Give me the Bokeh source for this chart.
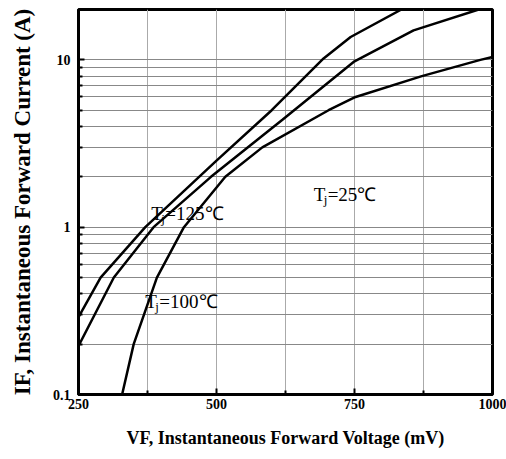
from bokeh.plotting import figure
from bokeh.models import FixedTicker, Label, Range1d
from bokeh.embed import file_html
from bokeh.resources import INLINE

# Forward characteristics (VF in mV, IF in A)
vf_125 = [250, 290, 371, 500, 600, 694, 743, 835]
if_125 = [0.29, 0.5, 1.0, 2.5, 5.0, 10.2, 13.7, 20.0]

vf_100 = [250, 314, 386, 490, 620, 750, 857, 975]
if_100 = [0.195, 0.5, 1.0, 2.0, 4.4, 9.8, 15.0, 20.0]

vf_25 = [329, 350, 392, 441, 516, 583, 703, 752, 872, 978, 1000]
if_25 = [0.1, 0.2, 0.5, 1.0, 2.0, 3.0, 5.0, 6.0, 8.0, 10.0, 10.4]

x_ticks = [250, 500, 750, 1000]
x_minor = [375, 625, 875]
y_ticks = [0.1, 1, 10]
y_minor = [0.2, 0.3, 0.4, 0.5, 0.6, 0.7, 0.8, 0.9, 2, 3, 4, 5, 6, 7, 8, 9, 20]
y_labels = {0.1: "0.1", 1: "1", 10: "10"}

FONT = "Liberation Serif"

p = figure(width=506, height=459, y_axis_type="log",
           x_range=Range1d(250, 1000), y_range=Range1d(0.1, 20),
           output_backend="svg", toolbar_location=None,
           min_border_left=78, min_border_right=14,
           min_border_top=9, min_border_bottom=65)

p.outline_line_color = "black"
p.outline_line_width = 3
p.background_fill_color = "white"

p.xaxis.ticker = FixedTicker(ticks=x_ticks, minor_ticks=x_minor)
p.yaxis.ticker = FixedTicker(ticks=y_ticks, minor_ticks=y_minor)
p.yaxis.major_label_overrides = y_labels

for ax in (p.xaxis, p.yaxis):
    ax.axis_line_width = 3
    ax.axis_line_color = "black"
    ax.major_tick_in = 6
    ax.major_tick_out = 0
    ax.minor_tick_in = 4
    ax.minor_tick_out = 0
    ax.major_tick_line_width = 2
    ax.minor_tick_line_width = 2
    ax.major_label_text_font = FONT
    ax.major_label_text_font_style = "bold"
    ax.major_label_text_font_size = "14px"
    ax.major_label_text_color = "black"
    ax.axis_label_text_font = FONT
    ax.axis_label_text_font_style = "bold"
    ax.axis_label_text_color = "black"

p.xaxis.axis_label = "VF, Instantaneous Forward Voltage (mV)"
p.xaxis.axis_label_text_font_size = "18px"
p.xaxis.major_label_standoff = 4
p.xaxis.axis_label_standoff = 16

p.yaxis.axis_label = "IF, Instantaneous Forward Current (A)"
p.yaxis.axis_label_text_font_size = "23px"
p.yaxis.major_label_standoff = 8
p.yaxis.axis_label_standoff = 15

p.xgrid.grid_line_color = "#aaaaaa"
p.xgrid.minor_grid_line_color = "#aaaaaa"
p.ygrid.grid_line_color = "#888888"
p.ygrid.minor_grid_line_color = "#888888"

for xs, ys in ((vf_125, if_125), (vf_100, if_100), (vf_25, if_25)):
    p.line(xs, ys, line_color="black", line_width=2.5)


def tj_label(x, y, rest):
    p.add_layout(Label(x=x, y=y, text="T", text_font=FONT, text_font_size="19px",
                       text_color="black", text_baseline="alphabetic"))
    p.add_layout(Label(x=x, y=y, x_offset=10, y_offset=-5, text="j", text_font=FONT,
                       text_font_size="13px", text_color="black", text_baseline="alphabetic"))
    p.add_layout(Label(x=x, y=y, x_offset=14, text=rest, text_font=FONT,
                       text_font_size="19px", text_color="black", text_baseline="alphabetic"))


tj_label(382, 1.2, "=125℃")
tj_label(371, 0.358, "=100℃")
tj_label(676, 1.57, "=25℃")

open("out.html", "w").write(file_html(p, INLINE))
